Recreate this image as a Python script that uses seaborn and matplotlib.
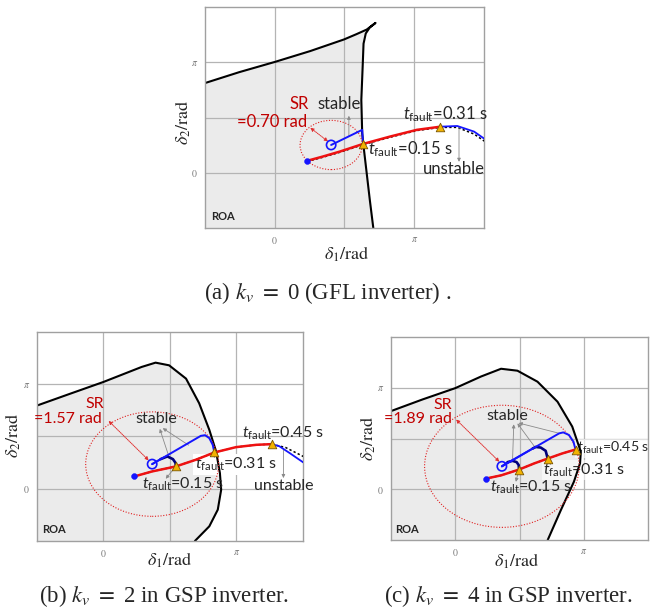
import numpy as np
import pandas as pd
import matplotlib
matplotlib.use("Agg")
import matplotlib.pyplot as plt
from matplotlib.patches import Ellipse, Polygon
import seaborn as sns

PI = np.pi
LO, HI = -PI / 2, 3 * PI / 2

# ---------------- panel (a): k_v = 0, GFL inverter ----------------
a_roa_x = [LO, -0.8, 0.0, 0.8, 1.56, 1.84, 2.07, 2.27, 2.14, 2.05, 2.00, 1.98,
           1.95, 1.97, 2.01, 2.07, 2.14, 2.22]
a_roa_y = [2.55, 2.86, 3.15, 3.46, 3.79, 3.94, 4.07, 4.26, 4.13, 3.96, 3.67, 3.01,
           2.07, 1.12, 0.65, 0.0, -0.76, LO]
a_pre_sep = (0.73, 0.34)
a_post_sep = (1.27, 0.79)
a_sr = 0.70
a_fault_x = [0.73, 1.08, 1.46, 1.99, 2.60, 3.20, 3.73]
a_fault_y = [0.34, 0.46, 0.60, 0.82, 1.03, 1.22, 1.31]
a_sustained_x = [0.73, 1.08, 1.46, 1.99, 2.60, 3.20, 3.73, 4.11, 4.49, 4.72]
a_sustained_y = [0.32, 0.44, 0.58, 0.80, 1.01, 1.20, 1.29, 1.29, 1.10, 0.90]
a_clear_x = [1.99, 3.73]
a_clear_y = [0.82, 1.31]
a_clear_t = [0.15, 0.31]
a_stable_x = [[1.99, 1.98, 1.97, 1.27]]
a_stable_y = [[0.82, 1.00, 1.22, 0.79]]
a_unstable_x = [3.73, 4.11, 4.49, 4.74]
a_unstable_y = [1.31, 1.33, 1.17, 0.95]

# ---------------- panel (b): k_v = 2, GSP inverter ----------------
b_roa_x = [LO, -0.8, 0.0, 0.9, 1.23, 1.55, 1.95, 2.26, 2.50, 2.66, 2.75, 2.78,
           2.70, 2.50, 2.16]
b_roa_y = [2.50, 2.85, 3.21, 3.66, 3.79, 3.71, 3.31, 2.57, 1.77, 1.12, 0.47, -0.03,
           -0.63, -1.13, LO]
b_pre_sep = (0.73, 0.37)
b_post_sep = (1.15, 0.74)
b_sr = 1.57
b_fault_x = [0.73, 1.15, 1.71, 2.18, 2.62, 3.13, 3.61, 3.97]
b_fault_y = [0.37, 0.52, 0.67, 0.87, 1.09, 1.25, 1.32, 1.34]
b_sustained_x = [0.73, 1.15, 1.71, 2.18, 2.62, 3.13, 3.61, 3.97, 4.30, 4.72]
b_sustained_y = [0.37, 0.52, 0.67, 0.87, 1.09, 1.25, 1.32, 1.34, 1.24, 0.97]
b_clear_x = [1.71, 2.62, 3.97]
b_clear_y = [0.67, 1.09, 1.34]
b_clear_t = [0.15, 0.31, 0.45]
b_stable_x = [[1.71, 1.70, 1.64, 1.51, 1.35, 1.15],
              [2.62, 2.58, 2.50, 2.40, 2.30, 1.15]]
b_stable_y = [[0.67, 0.78, 0.89, 0.97, 0.89, 0.74],
              [1.09, 1.32, 1.52, 1.61, 1.59, 0.74]]
b_unstable_x = [3.97, 4.15, 4.40, 4.72]
b_unstable_y = [1.34, 1.28, 1.07, 0.79]

# ---------------- panel (c): k_v = 4, GSP inverter ----------------
c_roa_x = [LO, -0.8, 0.0, 0.63, 1.12, 1.52, 2.01, 2.50, 2.86, 3.07, 3.05, 2.90,
           2.58, 2.26]
c_roa_y = [2.42, 2.78, 3.13, 3.49, 3.73, 3.67, 3.33, 2.71, 1.94, 1.16, 0.80, 0.23,
           -0.65, LO]
c_pre_sep = (0.75, 0.33)
c_post_sep = (1.14, 0.71)
c_sr = 1.89
c_fault_x = [0.75, 1.12, 1.56, 1.93, 2.26, 2.62, 2.94]
c_fault_y = [0.33, 0.43, 0.61, 0.80, 0.95, 1.11, 1.23]
c_sustained_x = c_fault_x
c_sustained_y = c_fault_y
c_clear_x = [1.56, 2.26, 2.94]
c_clear_y = [0.61, 0.95, 1.23]
c_clear_t = [0.15, 0.31, 0.45]
c_stable_x = [[1.56, 1.55, 1.50, 1.40, 1.28, 1.14],
              [2.26, 2.21, 2.09, 1.97, 1.89, 1.14],
              [2.94, 2.89, 2.78, 2.64, 2.54, 1.14]]
c_stable_y = [[0.61, 0.75, 0.84, 0.88, 0.84, 0.71],
              [0.95, 1.19, 1.29, 1.31, 1.26, 0.71],
              [1.23, 1.47, 1.68, 1.76, 1.73, 0.71]]
c_unstable_x = []
c_unstable_y = []

# ---------------- styling ----------------
sns.set_style("white")
plt.rcParams["font.family"] = ["Lato", "DejaVu Sans"]
plt.rcParams["mathtext.fontset"] = "custom"
plt.rcParams["mathtext.rm"] = "Lato"
plt.rcParams["mathtext.it"] = "Lato:italic"
plt.rcParams["mathtext.bf"] = "Lato:bold"

RED = "#ee1111"
RED_TXT = "#c00000"
BLUE = "#1515ff"
NAVY = "#00007a"
GOLD = "#f2b200"
ROA_FILL = "#ebebeb"
GRID = "#b4b4b4"


def line(ax, xs, ys, **kw):
    df = pd.DataFrame({"x": xs, "y": ys})
    sns.lineplot(data=df, x="x", y="y", sort=False, estimator=None, ax=ax, **kw)


def leader(ax, start, end, color="#8a8a8a", lw=0.6, style="-|>", ls="-"):
    ax.annotate("", xy=end, xytext=start,
                arrowprops=dict(arrowstyle=style, color=color, lw=lw, ls=ls,
                                mutation_scale=5, shrinkA=0, shrinkB=0))


def sr_arrow(ax, start, end):
    leader(ax, start, end, color="#e03030", lw=0.7, style="<|-|>", ls=(0, (1, 1)))


def panel(ax, roa_x, roa_y, pre, post, sr, fx, fy, sx, sy, cx, cy,
          stab_x, stab_y, un_x, un_y, navy_first=0):
    ax.set_xlim(LO, HI)
    ax.set_ylim(LO, HI)
    # region of attraction
    poly = list(zip(roa_x, roa_y)) + [(LO, LO)]
    ax.add_patch(Polygon(poly, closed=True, facecolor=ROA_FILL, edgecolor="none", zorder=0))
    for g in [0, PI / 2, PI]:
        ax.axvline(g, color=GRID, lw=0.9, zorder=0.5)
        ax.axhline(g, color=GRID, lw=0.9, zorder=0.5)
    line(ax, roa_x, roa_y, color="black", lw=1.5, zorder=2)
    # stability radius circle
    ax.add_patch(Ellipse(post, 2 * sr, 2 * sr, fill=False, ls=(0, (1, 1.5)),
                         lw=0.8, edgecolor="#e02020", zorder=2))
    # fault-on trajectory (sustained fault in black)
    line(ax, sx, sy, color="black", lw=1.1, linestyle=(0, (1.5, 1.5)), zorder=3)
    line(ax, fx, fy, color=RED, lw=1.8, zorder=5)
    # post-fault trajectories
    for i, (xs, ys) in enumerate(zip(stab_x, stab_y)):
        if i < navy_first:
            line(ax, xs[-2:], ys[-2:], color=BLUE, lw=1.4, zorder=4)
            line(ax, xs[:-1], ys[:-1], color=NAVY, lw=1.9, zorder=4)
        else:
            line(ax, xs, ys, color=BLUE, lw=1.4, zorder=4)
    if un_x:
        line(ax, un_x, un_y, color=BLUE, lw=1.3, zorder=4)
    # equilibria and clearing instants
    sns.scatterplot(x=[pre[0]], y=[pre[1]], color=BLUE, s=18, edgecolor=BLUE,
                    ax=ax, zorder=6)
    sns.scatterplot(x=[post[0]], y=[post[1]], facecolor="none", edgecolor=BLUE,
                    s=45, linewidth=1.2, ax=ax, zorder=6)
    sns.scatterplot(x=cx, y=cy, marker="^", color=GOLD, edgecolor="#7a5500",
                    s=38, linewidth=0.6, ax=ax, zorder=6)
    # axes cosmetics
    ax.set_xticks([0, PI])
    ax.set_yticks([0, PI])
    ax.set_xticklabels([r"$0$", r"$\pi$"], math_fontfamily="stix")
    ax.set_yticklabels([r"$0$", r"$\pi$"], math_fontfamily="stix")
    ax.tick_params(length=0, labelsize=7, labelcolor="#777777", pad=5)
    for sp in ax.spines.values():
        sp.set_color("#a0a0a0")
        sp.set_linewidth(1.0)
    ax.set_xlabel(r"$\delta_1/\mathrm{rad}$", math_fontfamily="stix", fontsize=13)
    ax.set_ylabel(r"$\delta_2/\mathrm{rad}$", math_fontfamily="stix", fontsize=13)
    ax.text(-1.17, -1.24, "ROA", fontsize=8, fontweight="bold", ha="center",
            va="center", zorder=7)


def tf(t):
    return r"$t_{\mathrm{fault}}$" + f"={t:.2f} s"


fig = plt.figure(figsize=(6.52, 6.09), dpi=100)
ax_a = fig.add_axes([0.3144, 0.6256, 0.4279, 0.3629])
ax_b = fig.add_axes([0.0567, 0.1117, 0.4080, 0.3432])
ax_c = fig.add_axes([0.5997, 0.1133, 0.3942, 0.3333])

# ---- (a)
FA = 12
panel(ax_a, a_roa_x, a_roa_y, a_pre_sep, a_post_sep, a_sr, a_fault_x, a_fault_y,
      a_sustained_x, a_sustained_y, a_clear_x, a_clear_y, a_stable_x, a_stable_y,
      a_unstable_x, a_unstable_y)
ax_a.text(0.54, 1.95, "SR", color=RED_TXT, fontsize=FA, ha="center", va="center")
ax_a.text(-0.07, 1.45, f"={a_sr:.2f} rad", color=RED_TXT, fontsize=FA, ha="center", va="center")
sr_arrow(ax_a, (0.80, 1.28), (1.20, 0.89))
ax_a.text(1.44, 1.95, "stable", fontsize=FA, ha="center", va="center")
leader(ax_a, (1.67, 1.04), (1.67, 1.62))
ax_a.text(2.89, 1.66, tf(a_clear_t[1]), fontsize=FA, ha="left", va="center")
ax_a.text(2.10, 0.68, tf(a_clear_t[0]), fontsize=FA, ha="left", va="center")
ax_a.text(4.04, 0.10, "unstable", fontsize=FA, ha="center", va="center")
leader(ax_a, (4.15, 1.27), (4.15, 0.31))
ax_a.xaxis.set_label_coords(0.509, -0.073)
ax_a.yaxis.set_label_coords(-0.043, 0.48)

# ---- (b)
FB = 11.5
panel(ax_b, b_roa_x, b_roa_y, b_pre_sep, b_post_sep, b_sr, b_fault_x, b_fault_y,
      b_sustained_x, b_sustained_y, b_clear_x, b_clear_y, b_stable_x, b_stable_y,
      b_unstable_x, b_unstable_y, navy_first=1)
ax_b.text(-0.21, 2.54, "SR", color=RED_TXT, fontsize=FB, ha="center", va="center")
ax_b.text(-0.83, 2.09, f"={b_sr:.2f} rad", color=RED_TXT, fontsize=FB, ha="center", va="center")
sr_arrow(ax_b, (0.12, 2.04), (1.07, 0.85))
ax_b.text(1.25, 2.10, "stable", fontsize=FB, ha="center", va="center")
leader(ax_b, (1.55, 0.95), (1.33, 1.80))
leader(ax_b, (2.01, 1.31), (1.40, 1.82))
ax_b.text(3.28, 1.67, tf(b_clear_t[2]), fontsize=FB, ha="left", va="center")
ax_b.text(2.16, 0.72, tf(b_clear_t[1]), fontsize=FB, ha="left", va="center",
          bbox=dict(boxstyle="square,pad=0.1", fc="white", ec="none"), zorder=1.8)
ax_b.text(0.91, 0.12, tf(b_clear_t[0]), fontsize=FB, ha="left", va="center")
leader(ax_b, (2.62, 1.09), (2.62, 0.92))
leader(ax_b, (1.71, 0.67), (1.47, 0.30))
ax_b.text(4.25, 0.07, "unstable", fontsize=FB, ha="center", va="center")
leader(ax_b, (4.25, 1.17), (4.25, 0.32))
ax_b.xaxis.set_label_coords(0.50, -0.047)
ax_b.yaxis.set_label_coords(-0.053, 0.507)

# ---- (c)
panel(ax_c, c_roa_x, c_roa_y, c_pre_sep, c_post_sep, c_sr, c_fault_x, c_fault_y,
      c_sustained_x, c_sustained_y, c_clear_x, c_clear_y, c_stable_x, c_stable_y,
      c_unstable_x, c_unstable_y, navy_first=2)
ax_c.text(-0.30, 2.61, "SR", color=RED_TXT, fontsize=FB, ha="center", va="center")
ax_c.text(-0.91, 2.16, f"={c_sr:.2f} rad", color=RED_TXT, fontsize=FB, ha="center",
          va="center", clip_on=False)
sr_arrow(ax_c, (0.02, 2.16), (1.08, 0.85))
ax_c.text(1.27, 2.27, "stable", fontsize=FB, ha="center", va="center")
leader(ax_c, (1.40, 0.88), (1.43, 2.01))
leader(ax_c, (1.95, 1.30), (1.52, 2.04))
leader(ax_c, (2.55, 1.73), (1.55, 2.05))
ax_c.text(2.97, 1.27, tf(c_clear_t[2]), fontsize=10.2, ha="left", va="center",
          bbox=dict(boxstyle="square,pad=0.1", fc="white", ec="none", alpha=0.6), zorder=1.8)
ax_c.text(2.15, 0.59, tf(c_clear_t[1]), fontsize=FB, ha="left", va="center",
          bbox=dict(boxstyle="square,pad=0.1", fc="white", ec="none", alpha=0.6), zorder=1.8)
ax_c.text(0.86, 0.05, tf(c_clear_t[0]), fontsize=FB, ha="left", va="center")
leader(ax_c, (2.26, 0.95), (2.34, 0.75))
leader(ax_c, (1.56, 0.61), (1.48, 0.23))
ax_c.xaxis.set_label_coords(0.49, -0.056)
ax_c.yaxis.set_label_coords(-0.05, 0.50)

# captions
cap_kw = dict(fontsize=16.5, ha="center", va="center",
              family=["Liberation Serif", "DejaVu Serif"], math_fontfamily="stix")
fig.text(0.502, 0.519, r"(a) $k_v$ $=$ 0 (GFL inverter) .", **cap_kw)
fig.text(0.252, 0.021, r"(b) $k_v$ $=$ 2 in GSP inverter.", **cap_kw)
fig.text(0.780, 0.021, r"(c) $k_v$ $=$ 4 in GSP inverter.", **cap_kw)

fig.savefig("out.png", dpi=100)
